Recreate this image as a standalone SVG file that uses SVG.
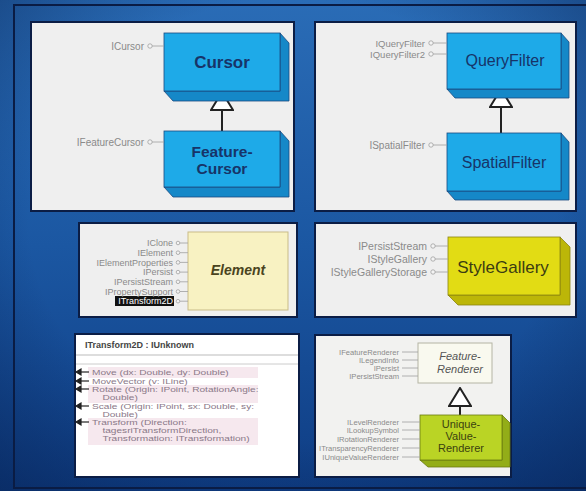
<svg xmlns="http://www.w3.org/2000/svg" width="586" height="491" viewBox="0 0 586 491">
<defs>
<linearGradient id="bg" x1="0" y1="0" x2="0" y2="1">
<stop offset="0" stop-color="#2a6cb6"/>
<stop offset="0.5" stop-color="#1b57a2"/>
<stop offset="1" stop-color="#0f3d84"/>
</linearGradient>
<radialGradient id="vig" cx="0.5" cy="0.45" r="0.75">
<stop offset="0.6" stop-color="#06204f" stop-opacity="0"/>
<stop offset="1" stop-color="#06204f" stop-opacity="0.55"/>
</radialGradient>
<marker id="tri" viewBox="0 0 24 20" refX="12" refY="1" markerWidth="24" markerHeight="20" markerUnits="userSpaceOnUse" orient="0">
<path d="M1,19 L12,1 L23,19 Z" fill="#fff" stroke="#222" stroke-width="2"/>
</marker>
</defs>
<style>
.panel{stroke:#0b1d45;stroke-width:2}
.lbl{font-family:"Liberation Sans",Arial,sans-serif;fill:#8a8a8a;text-anchor:end}
.lol{stroke:#a0a0a0;stroke-width:0.8;fill:none}
.loc{stroke:#a0a0a0;stroke-width:0.8;fill:#f4f4f4}
.bfront{fill:#1eaae8;stroke:#1a4a80;stroke-width:0.8}
.bside{fill:#1588c8;stroke:#1a4a80;stroke-width:0.8}
.btxt{font-family:"Liberation Sans",Arial,sans-serif;fill:#173468;text-anchor:middle}
.inh{stroke:#222;stroke-width:2;fill:none}
.m{font-family:"Liberation Sans",Arial,sans-serif;font-size:7.8px;fill:#8a7888}
</style>
<rect width="586" height="491" fill="url(#bg)"/>
<rect width="586" height="491" fill="url(#vig)"/>
<rect x="14" y="5" width="600" height="483" fill="none" stroke="#0a1c44" stroke-width="2"/>

<rect class="panel" x="31" y="22" width="263" height="189" fill="#efefef"/>
<rect class="panel" x="315" y="22" width="261" height="189" fill="#efefef"/>
<rect class="panel" x="79" y="223" width="218" height="94" fill="#efefef"/>
<rect class="panel" x="315" y="223" width="261" height="94" fill="#efefef"/>
<rect class="panel" x="75" y="334" width="224" height="143" fill="#ffffff"/>
<rect class="panel" x="315" y="335" width="196" height="142" fill="#f2f2f0"/>

<g id="connectors">
<line class="inh" x1="222" y1="131" x2="222" y2="92" marker-end="url(#tri)"/>
<line class="inh" x1="501" y1="133" x2="501" y2="89" marker-end="url(#tri)"/>
<line class="inh" x1="460" y1="415" x2="460" y2="388" marker-end="url(#tri)" stroke-width="1.6"/>
</g>

<g id="cursor">
<path class="bside" d="M280,33 L289,43 L289,101 L173,101 L164,91 L280,91 Z"/>
<rect class="bfront" x="164" y="33" width="116" height="58"/>
<text class="btxt" x="222" y="68" font-size="17" font-weight="bold">Cursor</text>
<line class="lol" x1="152" y1="46" x2="164" y2="46"/><circle class="loc" cx="150" cy="46" r="2.2"/>
<text class="lbl" x="144" y="49.5" font-size="10">ICursor</text>
</g>

<g id="featurecursor">
<path class="bside" d="M280,131 L289,141 L289,197 L173,197 L164,187 L280,187 Z"/>
<rect class="bfront" x="164" y="131" width="116" height="56"/>
<text class="btxt" x="222" y="157" font-size="15.5" font-weight="bold">Feature-</text>
<text class="btxt" x="222" y="174" font-size="15.5" font-weight="bold">Cursor</text>
<line class="lol" x1="152" y1="142" x2="164" y2="142"/><circle class="loc" cx="150" cy="142" r="2.2"/>
<text class="lbl" x="144" y="145.5" font-size="10">IFeatureCursor</text>
</g>

<g id="queryfilter">
<path class="bside" d="M561,33 L569,42 L569,98 L455,98 L447,89 L561,89 Z"/>
<rect class="bfront" x="447" y="33" width="114" height="56"/>
<text class="btxt" x="505" y="66" font-size="16">QueryFilter</text>
<line class="lol" x1="433" y1="43" x2="447" y2="43"/><circle class="loc" cx="431" cy="43" r="2.2"/>
<line class="lol" x1="433" y1="54" x2="447" y2="54"/><circle class="loc" cx="431" cy="54" r="2.2"/>
<text class="lbl" x="425" y="46.5" font-size="9.5">IQueryFilter</text>
<text class="lbl" x="425" y="57.5" font-size="9.5">IQueryFilter2</text>
</g>

<g id="spatialfilter">
<path class="bside" d="M561,133 L569,142 L569,200 L455,200 L447,191 L561,191 Z"/>
<rect class="bfront" x="447" y="133" width="114" height="58"/>
<text class="btxt" x="504" y="168" font-size="16">SpatialFilter</text>
<line class="lol" x1="433" y1="145" x2="447" y2="145"/><circle class="loc" cx="431" cy="145" r="2.2"/>
<text class="lbl" x="425" y="148.5" font-size="10">ISpatialFilter</text>
</g>

<g id="element">
<rect x="188" y="232" width="100" height="78" fill="#f8f2c2" stroke="#c9bc88" stroke-width="1"/>
<text x="238" y="275" font-family="Liberation Sans,Arial,sans-serif" font-size="14" font-style="italic" font-weight="bold" fill="#4a4420" text-anchor="middle">Element</text>
<g class="lol">
<line x1="180" y1="243" x2="188" y2="243"/><line x1="180" y1="252.7" x2="188" y2="252.7"/><line x1="180" y1="262.4" x2="188" y2="262.4"/><line x1="180" y1="272.1" x2="188" y2="272.1"/><line x1="180" y1="281.8" x2="188" y2="281.8"/><line x1="180" y1="291.5" x2="188" y2="291.5"/><line x1="180" y1="301.2" x2="188" y2="301.2"/>
</g>
<g class="loc">
<circle cx="178" cy="243" r="1.8"/><circle cx="178" cy="252.7" r="1.8"/><circle cx="178" cy="262.4" r="1.8"/><circle cx="178" cy="272.1" r="1.8"/><circle cx="178" cy="281.8" r="1.8"/><circle cx="178" cy="291.5" r="1.8"/><circle cx="178" cy="301.2" r="1.8"/>
</g>
<rect x="115" y="296" width="59" height="10" fill="#111"/>
<g font-size="9">
<text class="lbl" x="173" y="246.2">IClone</text>
<text class="lbl" x="173" y="255.9">IElement</text>
<text class="lbl" x="173" y="265.6">IElementProperties</text>
<text class="lbl" x="173" y="275.3">IPersist</text>
<text class="lbl" x="173" y="285">IPersistStream</text>
<text class="lbl" x="173" y="294.7">IPropertySupport</text>
<text class="lbl" x="173" y="304.4" style="fill:#fff">ITransform2D</text>
</g>
</g>

<g id="stylegallery">
<path d="M560,237 L570,247 L570,305 L458,305 L448,295 L560,295 Z" fill="#bcb608" stroke="#8a8410" stroke-width="0.8"/>
<rect x="448" y="237" width="112" height="58" fill="#e2dc14" stroke="#8a8410" stroke-width="0.8"/>
<text x="503" y="273" font-family="Liberation Sans,Arial,sans-serif" font-size="17" fill="#3c3c12" text-anchor="middle">StyleGallery</text>
<line class="lol" x1="435" y1="246" x2="448" y2="246"/><circle class="loc" cx="433" cy="246" r="2.2"/>
<line class="lol" x1="435" y1="259" x2="448" y2="259"/><circle class="loc" cx="433" cy="259" r="2.2"/>
<line class="lol" x1="435" y1="272" x2="448" y2="272"/><circle class="loc" cx="433" cy="272" r="2.2"/>
<g font-size="10.5">
<text class="lbl" x="427" y="249.5">IPersistStream</text>
<text class="lbl" x="427" y="262.5">IStyleGallery</text>
<text class="lbl" x="427" y="275.5">IStyleGalleryStorage</text>
</g>
</g>

<g id="itransform2d">
<text x="85" y="348" font-family="Liberation Sans,Arial,sans-serif" font-size="9" font-weight="bold" fill="#444">ITransform2D : IUnknown</text>
<line x1="76" y1="355" x2="298" y2="355" stroke="#bbb" stroke-width="1"/>
<line x1="76" y1="364" x2="298" y2="364" stroke="#ccc" stroke-width="1"/>
<rect x="88" y="367" width="170" height="11" fill="#f6e8ee"/>
<rect x="88" y="385" width="170" height="18" fill="#f6e8ee"/>
<rect x="88" y="418" width="170" height="27" fill="#f6e8ee"/>
<g fill="#222" stroke="#222" stroke-width="1.2">
<path d="M76,372 L81,369 L81,375 Z"/><line x1="80" y1="372" x2="89" y2="372"/>
<path d="M76,381 L81,378 L81,384 Z"/><line x1="80" y1="381" x2="89" y2="381"/>
<path d="M76,389 L81,386 L81,392 Z"/><line x1="80" y1="389" x2="89" y2="389"/>
<path d="M76,406 L81,403 L81,409 Z"/><line x1="80" y1="406" x2="89" y2="406"/>
<path d="M76,422 L81,419 L81,425 Z"/><line x1="80" y1="422" x2="89" y2="422"/>
</g>
<g transform="translate(92,0) scale(1.3,1)">
<text class="m" x="0" y="375">Move (dx: Double, dy: Double)</text>
<text class="m" x="0" y="384">MoveVector (v: ILine)</text>
<text class="m" x="0" y="392">Rotate (Origin: IPoint, RotationAngle:</text>
<text class="m" x="8" y="400">Double)</text>
<text class="m" x="0" y="409">Scale (Origin: IPoint, sx: Double, sy:</text>
<text class="m" x="8" y="417">Double)</text>
<text class="m" x="0" y="425">Transform (Direction:</text>
<text class="m" x="8" y="433">tagesriTransformDirection,</text>
<text class="m" x="8" y="441">Transformation: ITransformation)</text>
</g>
</g>

<g id="featurerenderer">
<rect x="418" y="343" width="74" height="40" fill="#f9f9ef" stroke="#b4b4a4" stroke-width="1"/>
<text x="460" y="360" font-family="Liberation Sans,Arial,sans-serif" font-size="11" font-style="italic" fill="#555" text-anchor="middle">Feature-</text>
<text x="460" y="373" font-family="Liberation Sans,Arial,sans-serif" font-size="11" font-style="italic" fill="#555" text-anchor="middle">Renderer</text>
<g class="lol"><line x1="402" y1="352" x2="418" y2="352"/><line x1="402" y1="360" x2="418" y2="360"/><line x1="402" y1="368" x2="418" y2="368"/><line x1="402" y1="376" x2="418" y2="376"/></g>
<g font-size="7.6">
<text class="lbl" x="399" y="354.7">IFeatureRenderer</text>
<text class="lbl" x="399" y="362.7">ILegendInfo</text>
<text class="lbl" x="399" y="370.7">IPersist</text>
<text class="lbl" x="399" y="378.7">IPersistStream</text>
</g>
</g>

<g id="uniquevaluerenderer">
<path d="M502,415 L510,423 L510,467 L428,467 L420,460 L502,460 Z" fill="#93ad18" stroke="#6a7a10" stroke-width="0.8"/>
<rect x="420" y="415" width="82" height="45" fill="#bad425" stroke="#6a7a10" stroke-width="0.8"/>
<g font-family="Liberation Sans,Arial,sans-serif" font-size="11" fill="#3a4210" text-anchor="middle">
<text x="461" y="428">Unique-</text>
<text x="461" y="440">Value-</text>
<text x="461" y="452">Renderer</text>
</g>
<g class="lol"><line x1="402" y1="422" x2="420" y2="422"/><line x1="402" y1="430" x2="420" y2="430"/><line x1="402" y1="439" x2="420" y2="439"/><line x1="402" y1="448" x2="420" y2="448"/><line x1="402" y1="457" x2="420" y2="457"/></g>
<g font-size="7.6">
<text class="lbl" x="399" y="424.7">ILevelRenderer</text>
<text class="lbl" x="399" y="432.7">ILookupSymbol</text>
<text class="lbl" x="399" y="441.7">IRotationRenderer</text>
<text class="lbl" x="399" y="450.7">ITransparencyRenderer</text>
<text class="lbl" x="399" y="459.7">IUniqueValueRenderer</text>
</g>
</g>
</svg>
